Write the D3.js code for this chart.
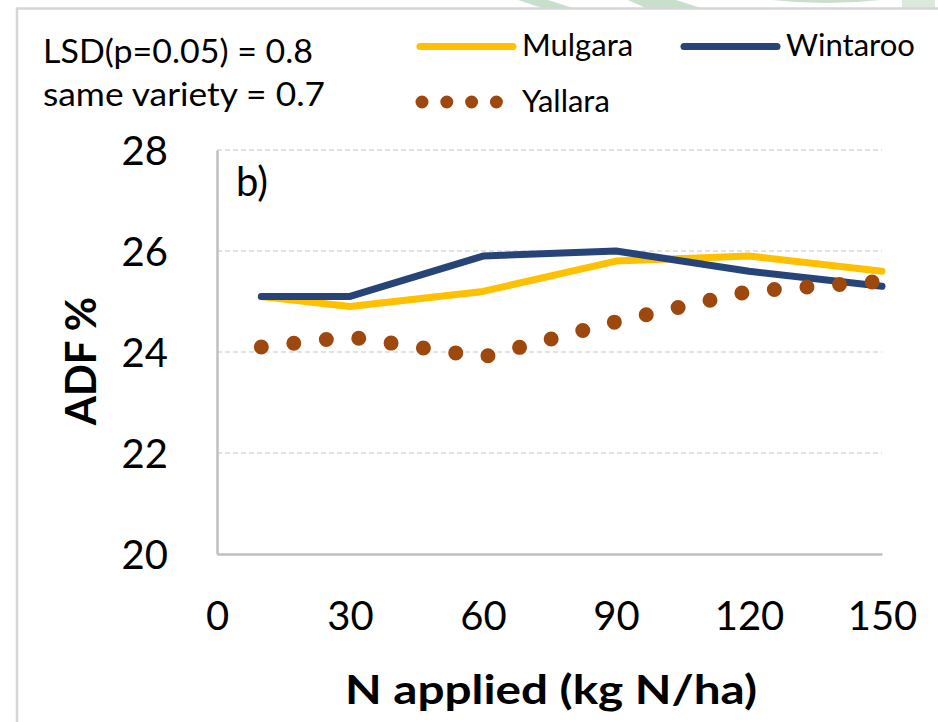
<!DOCTYPE html>
<html>
<head>
<meta charset="utf-8">
<script src="https://cdn.jsdelivr.net/npm/d3@7"></script>
<style>
  html, body { margin: 0; padding: 0; background: #fff; }
  svg { display: block; font-family: Lato, "Open Sans", sans-serif; }
</style>
</head>
<body>
<svg id="chart" width="938" height="722"></svg>
<script>
// N rates (kg N/ha) and ADF % by variety
const nRates = [10, 30, 60, 90, 120, 150];
const mulgara = [25.1, 24.9, 25.2, 25.8, 25.9, 25.6];
const wintaroo = [25.1, 25.1, 25.9, 26.0, 25.6, 25.3];
const yallara = [24.1, 24.3, 23.9, 24.6, 25.2, 25.4];

const xTicks = [0, 30, 60, 90, 120, 150];
const yTicks = [20, 22, 24, 26, 28];

const seriesNames = ["Mulgara", "Wintaroo", "Yallara"];
const seriesColors = ["#FFC000", "#264478", "#9E480E"];

const svg = d3.select("#chart");

// faint green shapes along the top edge
const deco = svg.append("g").attr("fill", "#c9dfcc");
deco.append("polygon").attr("points", "518,0 548,0 576,9 545,9");
deco.append("polygon").attr("points", "628,0 676,0 704,9 648,9");
deco.append("path").attr("d", "M772,0 Q826,6 880,0 Z");
deco.append("rect").attr("x", 902).attr("y", 0).attr("width", 33).attr("height", 9).attr("fill", "#dbe9dc");

// outer frame
svg.append("path")
  .attr("d", "M17,722 V8.5 H938")
  .attr("fill", "none")
  .attr("stroke", "#d6d6d6")
  .attr("stroke-width", 2.5);

const plot = { left: 217, right: 882, top: 150, bottom: 554 };

const x = d3.scaleLinear().domain([0, 150]).range([plot.left, plot.right]);
const y = d3.scaleLinear().domain([20, 28]).range([plot.bottom, plot.top]);

// horizontal gridlines
svg.append("g")
  .selectAll("line")
  .data(yTicks.filter(t => t > 20))
  .join("line")
  .attr("x1", plot.left).attr("x2", plot.right)
  .attr("y1", d => y(d)).attr("y2", d => y(d))
  .attr("stroke", "#d9d9d9")
  .attr("stroke-width", 1.5)
  .attr("stroke-dasharray", "5 3");

// axes
const yAxis = svg.append("g")
  .attr("transform", `translate(${plot.left},0)`)
  .call(d3.axisLeft(y).tickValues(yTicks).tickSize(0).tickPadding(14).tickFormat(d3.format("d")));
const xAxis = svg.append("g")
  .attr("transform", `translate(0,${plot.bottom})`)
  .call(d3.axisBottom(x).tickValues(xTicks).tickSize(0).tickPadding(48).tickFormat(d3.format("d")));

[xAxis, yAxis].forEach(a => {
  a.select(".domain").attr("stroke", "#bfbfbf").attr("stroke-width", 2.5);
  a.selectAll("text")
    .attr("font-family", "Lato, sans-serif")
    .attr("font-size", 40)
    .attr("fill", "#000");
});
yAxis.selectAll("text").attr("dx", -35).attr("dy", "0.36em");

// axis titles
svg.append("text")
  .attr("x", 551).attr("y", 704)
  .attr("text-anchor", "middle")
  .attr("font-size", 41)
  .attr("font-weight", "bold")
  .attr("textLength", 412)
  .attr("lengthAdjust", "spacingAndGlyphs")
  .text("N applied (kg N/ha)");

svg.append("text")
  .attr("transform", "translate(96,361) rotate(-90)")
  .attr("text-anchor", "middle")
  .attr("font-size", 42)
  .attr("font-weight", "bold")
  .text("ADF %");

// panel label
svg.append("text")
  .attr("x", 236).attr("y", 196)
  .attr("font-size", 40)
  .text("b)");

// LSD notes
svg.append("text")
  .attr("x", 43).attr("y", 63)
  .attr("font-size", 32)
  .attr("textLength", 270)
  .attr("lengthAdjust", "spacingAndGlyphs")
  .text("LSD(p=0.05) = 0.8");
svg.append("text")
  .attr("x", 43).attr("y", 106)
  .attr("font-size", 32)
  .attr("textLength", 282)
  .attr("lengthAdjust", "spacingAndGlyphs")
  .text("same variety = 0.7");

// series lines
const line = d3.line().x(d => x(d[0])).y(d => y(d[1]));
const seriesData = [mulgara, wintaroo, yallara].map(vals => nRates.map((n, i) => [n, vals[i]]));

svg.append("path")
  .datum(seriesData[0])
  .attr("d", line)
  .attr("fill", "none")
  .attr("stroke", seriesColors[0])
  .attr("stroke-width", 7)
  .attr("stroke-linecap", "round")
  .attr("stroke-linejoin", "round");

svg.append("path")
  .datum(seriesData[1])
  .attr("d", line)
  .attr("fill", "none")
  .attr("stroke", seriesColors[1])
  .attr("stroke-width", 7)
  .attr("stroke-linecap", "round")
  .attr("stroke-linejoin", "round");

svg.append("path")
  .datum(seriesData[2])
  .attr("d", line)
  .attr("fill", "none")
  .attr("stroke", seriesColors[2])
  .attr("stroke-width", 15)
  .attr("stroke-linecap", "round")
  .attr("stroke-dasharray", "0 32.7");

// legend
const legend = svg.append("g").attr("font-size", 31);
legend.append("line")
  .attr("x1", 420).attr("x2", 513).attr("y1", 46.5).attr("y2", 46.5)
  .attr("stroke", seriesColors[0]).attr("stroke-width", 7).attr("stroke-linecap", "round");
legend.append("text").attr("x", 522).attr("y", 56).text(seriesNames[0]);

legend.append("line")
  .attr("x1", 684).attr("x2", 777).attr("y1", 46.5).attr("y2", 46.5)
  .attr("stroke", seriesColors[1]).attr("stroke-width", 7).attr("stroke-linecap", "round");
legend.append("text").attr("x", 786).attr("y", 56).text(seriesNames[1]);

legend.append("line")
  .attr("x1", 422).attr("x2", 497).attr("y1", 102).attr("y2", 102)
  .attr("stroke", seriesColors[2]).attr("stroke-width", 13).attr("stroke-linecap", "round")
  .attr("stroke-dasharray", "0 24.8");
legend.append("text").attr("x", 522).attr("y", 112).text(seriesNames[2]);
</script>
</body>
</html>
